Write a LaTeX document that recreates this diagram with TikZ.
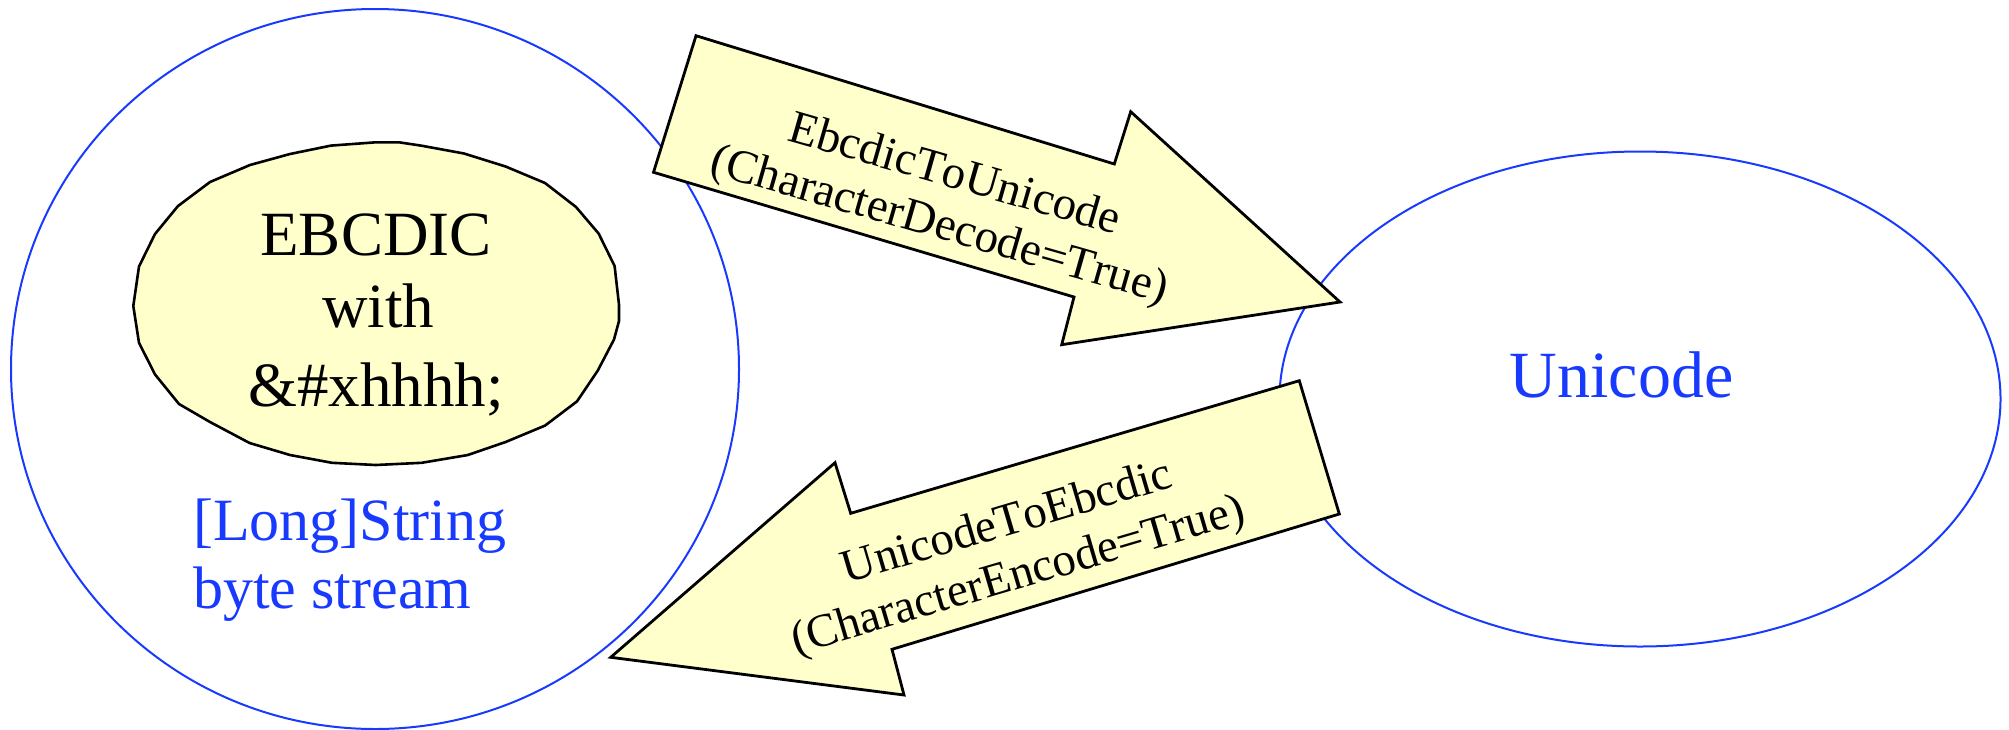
\documentclass[tikz,border=0pt]{standalone}
\usepackage{fontspec}
\setmainfont{Liberation Serif}[Kerning=Off]
\usetikzlibrary{shapes.geometric}
\definecolor{ringblue}{RGB}{24,58,255}
\definecolor{paleyellow}{HTML}{FFFFCC}
\tikzset{
  ring/.style={ellipse, draw=ringblue, line width=2pt, inner sep=0pt, outer sep=0pt},
  blockshape/.style={draw=black, fill=paleyellow, line width=2.8pt, line join=miter},
  bigtext/.style={anchor=base, inner sep=0pt, font=\fontsize{63}{63}\selectfont},
  bluetext/.style={anchor=base west, inner sep=0pt, text=ringblue, font=\fontsize{60}{60}\selectfont},
  arrowtext/.style={anchor=base, inner sep=0pt, font=\fontsize{47}{47}\selectfont},
}
\begin{document}
\begin{tikzpicture}[x=1pt, y=-1pt]
\useasboundingbox (0,0) rectangle (2009,729);
% outer rings
\node[ring, minimum width=728pt, minimum height=720pt] (stringring) at (375,369) {};
\node[ring, minimum width=721pt, minimum height=495pt] (unicodering) at (1640,399) {};
% inner polygonal ellipse
\draw[blockshape, line width=2.6pt] (133.3,306) -- (139,266.5) -- (155,234) -- (178,206) -- (210,182) -- (250,165) -- (290,154) -- (331,145.6) -- (375.7,142.3) -- (399,142.3) -- (421,145.6) -- (464,153.5) -- (505.6,166.5) -- (545,183) -- (576,207) -- (598.6,233.5) -- (614.6,266) -- (619,304.7) -- (619,321) -- (614,339.5) -- (597.7,370.7) -- (577,401.4) -- (545,425.6) -- (505.6,442) -- (467.8,455) -- (421.7,462.8) -- (375.7,465) -- (332,462.8) -- (290,455) -- (249.6,443) -- (210,422) -- (179,404) -- (155,374.4) -- (139,342.8) -- cycle;
\node[bigtext] (ebcdic) at (376,255) {EBCDIC};
\node[bigtext] (with) at (378,327) {with};
\node[bigtext] (hex) at (376,406) {\&\#xhhhh;};
% blue labels
\node[bluetext] (longstring) at (193,540) {[Long]String};
\node[bluetext] (bytestream) at (193,608.5) {byte stream};
\node[anchor=base, inner sep=0pt, text=ringblue, font=\fontsize{66}{66}\selectfont] (unicode) at (1621.5,397) {Unicode};
% upper block arrow
\coordinate (ua) at (696,35.7);
\coordinate (ub) at (1114.3,164);
\coordinate (uc) at (1130.7,111.7);
\coordinate (ud) at (1340,302);
\coordinate (ue) at (1061.7,344.7);
\coordinate (uf) at (1074,297);
\coordinate (ug) at (653.5,172.3);
\draw[blockshape] (ua) -- (ub) -- (uc) -- (ud) -- (ue) -- (uf) -- (ug) -- cycle;
\node[arrowtext, rotate=-16] (decode1) at (951,187.5) {EbcdicToUnicode};
\node[arrowtext, rotate=-16] (decode2) at (936,238) {(CharacterDecode=True)};
% lower block arrow
\coordinate (la) at (1299.3,380.7);
\coordinate (lb) at (1339.3,514);
\coordinate (lc) at (892,649.3);
\coordinate (ld) at (904,695);
\coordinate (le) at (610.7,657.3);
\coordinate (lf) at (835,462.7);
\coordinate (lg) at (850.7,513.3);
\draw[blockshape] (la) -- (lb) -- (lc) -- (ld) -- (le) -- (lf) -- (lg) -- cycle;
\node[arrowtext, rotate=16.4] (encode1) at (1010.8,535) {UnicodeToEbcdic};
\node[arrowtext, rotate=16.4] (encode2) at (1021.7,588.3) {(CharacterEncode=True)};
\end{tikzpicture}
\end{document}
